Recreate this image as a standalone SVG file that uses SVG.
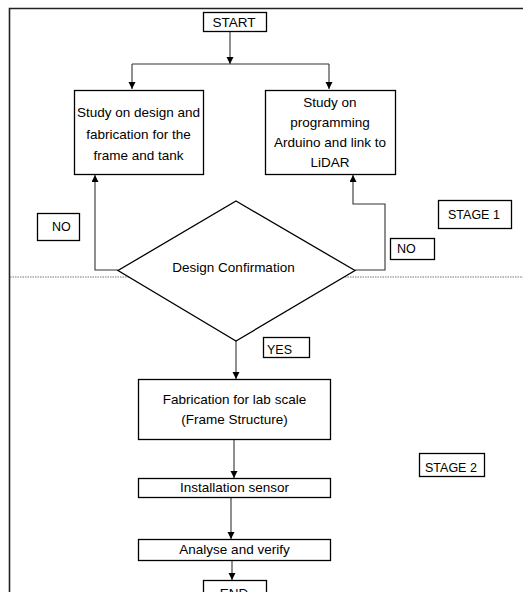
<svg xmlns="http://www.w3.org/2000/svg" width="523" height="592" viewBox="0 0 523 592">
<style>
.box{fill:#fff;stroke:#000;stroke-width:1.3}
.t{font-family:"Liberation Sans",Arial,sans-serif;font-size:13.5px;fill:#000;text-anchor:middle}
.s{font-family:"Liberation Sans",Arial,sans-serif;font-size:12.5px;fill:#000}
.c{fill:none;stroke:#333;stroke-width:1.1}
</style>
<defs>
<marker id="ah" markerUnits="userSpaceOnUse" markerWidth="8" markerHeight="8" refX="7" refY="3.5" orient="auto">
<path d="M0,0 L7,3.5 L0,7 z" fill="#000"/>
</marker>
</defs>
<rect width="523" height="592" fill="#fff"/>
<path d="M9.5 600 V8.5 H523" fill="none" stroke="#222" stroke-width="1.6"/>
<line x1="10" y1="277" x2="523" y2="277" stroke="#777" stroke-width="1" stroke-dasharray="1.5 1"/>

<g id="connectors">
<path class="c" d="M230 31 V64" marker-end="url(#ah)"/>
<path class="c" d="M132 64 H329"/>
<path class="c" d="M132 64 V89" marker-end="url(#ah)"/>
<path class="c" d="M329 64 V89" marker-end="url(#ah)"/>
<path class="c" d="M118 270 H95 V175" marker-end="url(#ah)"/>
<path class="c" d="M355 270 H385 V204 H353 V175" marker-end="url(#ah)"/>
<path class="c" d="M236 341 V379" marker-end="url(#ah)"/>
<path class="c" d="M234 439 V478" marker-end="url(#ah)"/>
<path class="c" d="M231 497 V539" marker-end="url(#ah)"/>
<path class="c" d="M232 560 V580" marker-end="url(#ah)"/>
</g>

<g id="start">
<rect class="box" x="203.5" y="12.5" width="63" height="19"/>
<text class="t" x="234" y="27" font-size="12.5">START</text>
</g>

<g id="study-design">
<rect class="box" x="74.5" y="90.5" width="129" height="84"/>
<text class="t" x="138.5" y="117">Study on design and</text>
<text class="t" x="138.5" y="139">fabrication for the</text>
<text class="t" x="138.5" y="160">frame and tank</text>
</g>

<g id="study-programming">
<rect class="box" x="265.5" y="90.5" width="130" height="84"/>
<text class="t" x="330" y="107">Study on</text>
<text class="t" x="330" y="127">programming</text>
<text class="t" x="330" y="147">Arduino and link to</text>
<text class="t" x="330" y="167">LiDAR</text>
</g>

<g id="decision">
<polygon class="box" points="236,201 355,270.5 236,341 118,270.5"/>
<text class="t" x="233.5" y="272">Design Confirmation</text>
</g>

<g id="no-left">
<rect class="box" x="37.5" y="213.5" width="42" height="27"/>
<text class="s" x="52" y="231">NO</text>
</g>

<g id="no-right">
<rect class="box" x="390.5" y="238.5" width="44" height="21"/>
<text class="s" x="397" y="253">NO</text>
</g>

<g id="stage1">
<rect class="box" x="438.5" y="200.5" width="73" height="28"/>
<text class="s" x="448" y="219">STAGE  1</text>
</g>

<g id="yes">
<rect class="box" x="263.5" y="337.5" width="46" height="20"/>
<text class="s" x="267" y="354">YES</text>
</g>

<g id="fabrication">
<rect class="box" x="138.5" y="379.5" width="192" height="60"/>
<text class="t" x="234.5" y="404">Fabrication for lab scale</text>
<text class="t" x="234.5" y="424">(Frame Structure)</text>
</g>

<g id="installation">
<rect class="box" x="138.5" y="478.5" width="192" height="19"/>
<text class="t" x="234.5" y="492">Installation sensor</text>
</g>

<g id="analyse">
<rect class="box" x="138.5" y="539.5" width="192" height="21"/>
<text class="t" x="234.5" y="554">Analyse and verify</text>
</g>

<g id="stage2">
<rect class="box" x="419.5" y="453.5" width="65" height="23"/>
<text class="s" x="425" y="472">STAGE  2</text>
</g>

<g id="end">
<rect class="box" x="203.5" y="580.5" width="63" height="20"/>
<text class="t" x="234" y="598" font-size="12.5">END</text>
</g>
</svg>
